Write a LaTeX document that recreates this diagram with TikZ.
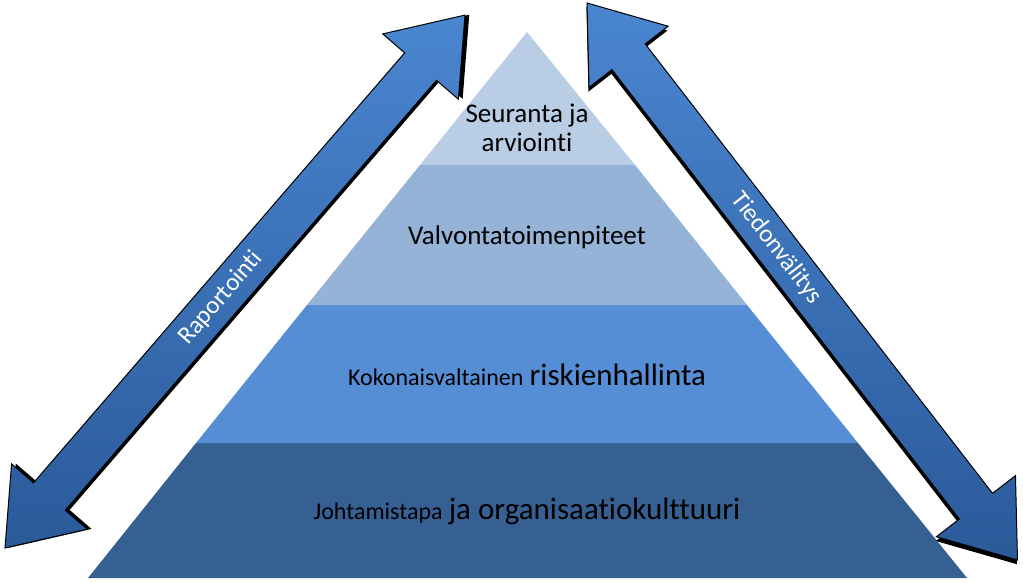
\documentclass[tikz,border=0pt]{standalone}
\usepackage{fontspec}
\setmainfont{Carlito}[Ligatures={NoCommon}]
\definecolor{l1}{HTML}{B9CDE5}
\definecolor{l2}{HTML}{95B3D7}
\definecolor{l3}{HTML}{558ED5}
\definecolor{l4}{HTML}{376092}
\definecolor{arrA}{HTML}{4A86D0}
\definecolor{arrB}{HTML}{2A5A9A}
\tikzset{
  lbl/.style={font=\fontsize{27}{29}\selectfont, align=center, text=black},
  alb/.style={font=\fontsize{25}{28}\selectfont, text=white, transform shape},
}
\newcommand{\dblarrow}{%
  \fill[black, shift={(3,-3)}] (0,0) -- (68,50) -- (68,21) -- (636,21) -- (636,50) -- (704,0) -- (636,-50) -- (636,-21) -- (68,-21) -- (68,-50) -- cycle;
  \shade[top color=arrA, bottom color=arrB, draw=black, line width=1pt] (0,0) -- (68,50) -- (68,21) -- (636,21) -- (636,50) -- (704,0) -- (636,-50) -- (636,-21) -- (68,-21) -- (68,-50) -- cycle;}
\begin{document}
\begin{tikzpicture}[x=1pt,y=1pt]
\useasboundingbox (0,0) rectangle (1023,-583);
\fill[l4] (88,-578) -- (967,-578) -- (858,-443) -- (196,-443) -- cycle;
\fill[l3] (196,-443) -- (858,-443) -- (747,-305) -- (307,-305) -- cycle;
\fill[l2] (307,-305) -- (747,-305) -- (635,-165) -- (420,-165) -- cycle;
\fill[l1] (420,-165) -- (635,-165) -- (527,-32) -- cycle;
\node[lbl] (t1) at (527,-128) {Seuranta ja\\arviointi};
\node[lbl] (t2) at (527,-237) {Valvontatoimenpiteet};
\node[lbl] (t3) at (527,-375) {{\fontsize{24}{28}\selectfont Kokonaisvaltainen} {\fontsize{31}{33}\selectfont riskienhallinta}};
\node[lbl] (t4) at (527,-511) {{\fontsize{24}{28}\selectfont Johtamistapa} {\fontsize{31}{33}\selectfont ja organisaatiokulttuuri}};
\begin{scope}[shift={(5,-548)}, rotate=49.2]
  \dblarrow
  \node[alb] (raport) at (330,0) {Raportointi};
\end{scope}
\begin{scope}[shift={(587,-3)}, rotate=-52.3]
  \dblarrow
  \node[alb] (tiedon) at (310,0) {Tiedonvälitys};
\end{scope}
\end{tikzpicture}
\end{document}
